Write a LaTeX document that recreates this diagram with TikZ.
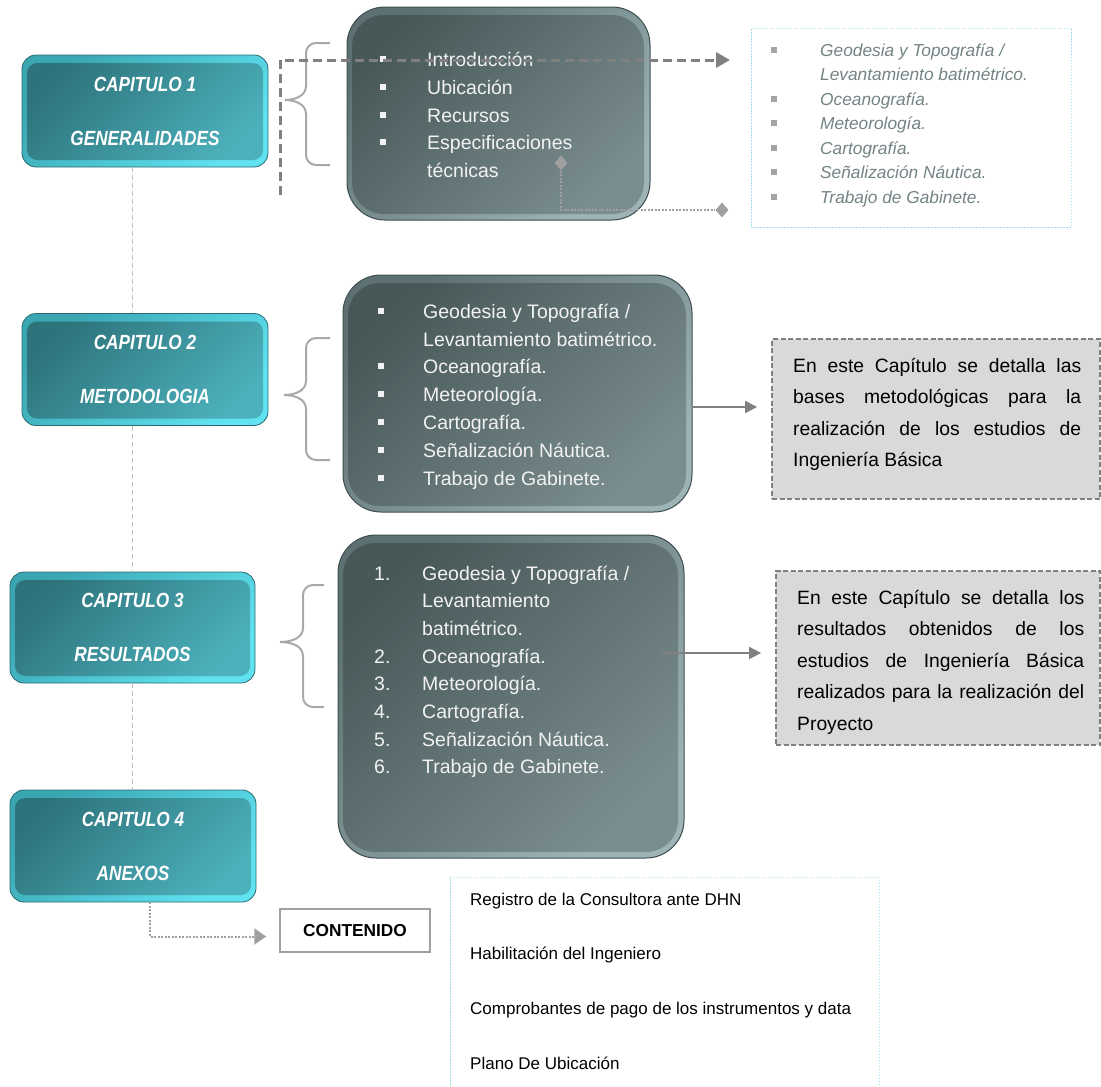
\documentclass[tikz,border=0pt]{standalone}
\usepackage{fontspec}
\setmainfont{Liberation Sans}
\newfontfamily\chapfont[FakeStretch=0.84]{Liberation Sans}
\usetikzlibrary{arrows.meta,shapes.geometric}
\definecolor{tealdark}{HTML}{2D737B}
\definecolor{teallight}{HTML}{4CB1BC}
\definecolor{tealedge}{HTML}{2A6A72}
\definecolor{bevtop}{HTML}{3AA6B2}
\definecolor{bevbot}{HTML}{60E2F0}
\definecolor{slatedark}{HTML}{485859}
\definecolor{slatelight}{HTML}{7A8D8F}
\definecolor{slateedge}{HTML}{3E4D4F}
\definecolor{sbevtop}{HTML}{5D7072}
\definecolor{sbevbot}{HTML}{9DB3B5}
\definecolor{arrgray}{HTML}{808080}
\definecolor{dotgray}{HTML}{A0A0A0}
\definecolor{conngray}{HTML}{C0C0C0}
\definecolor{skyline}{HTML}{A6DEF0}
\definecolor{italgray}{HTML}{738384}
\definecolor{boxgray}{HTML}{D9D9D9}
\definecolor{bracegray}{HTML}{A8A8A8}
\definecolor{bultone}{HTML}{A5A5A5}
\newcommand\wbul[1]{\makebox[#1][l]{\rule[4.5pt]{6pt}{6pt}}}
\newcommand\gbul{\makebox[50pt][l]{\hspace{1pt}\textcolor{bultone}{\rule[3.5pt]{6pt}{6pt}}}}
\begin{document}
\begin{tikzpicture}[x=1pt,y=-1pt,
  chapbox/.style={rounded corners=14pt, minimum width=246pt, minimum height=112pt, draw=tealedge, line width=0.8pt,
    top color=bevtop, bottom color=bevbot, shading angle=45,
    path picture={\shade[rounded corners=10pt, top color=tealdark, bottom color=teallight, shading angle=45]
      ([shift={(5pt,-8pt)}]path picture bounding box.north west) rectangle ([shift={(-5pt,7pt)}]path picture bounding box.south east);},
    text=white, font=\chapfont\fontsize{20.5}{24}\selectfont\bfseries\itshape, align=center, inner sep=0pt},
  slatebox/.style={rounded corners=38pt, draw=slateedge, line width=1pt,
    top color=sbevtop, bottom color=sbevbot, shading angle=45,
    path picture={\shade[rounded corners=32pt, top color=slatedark, bottom color=slatelight, shading angle=45]
      ([shift={(5pt,-8pt)}]path picture bounding box.north west) rectangle ([shift={(-6pt,6pt)}]path picture bounding box.south east);}},
  wlist/.style={anchor=base west, inner sep=0pt, align=left, text=white!95!black},
  skybox/.style={draw=skyline, line width=0.9pt, dash pattern=on 1.5pt off 1.5pt},
  graybox/.style={fill=boxgray, draw=arrgray, line width=1.8pt, dash pattern=on 5pt off 2.5pt},
  graytext/.style={anchor=base west, inner sep=0pt, text width=288pt, align=justify, font=\fontsize{19.3}{31.5}\selectfont},
  chapline/.style={draw=conngray, line width=1pt, dash pattern=on 5pt off 3pt},
  bigdash/.style={draw=arrgray, line width=3pt, dash pattern=on 9pt off 5pt, -{Triangle[length=14pt,width=15pt]}},
  dotline/.style={draw=dotgray, line width=2.5pt, dash pattern=on 2pt off 1.5pt},
  diam/.style={diamond, fill=dotgray, minimum width=13pt, minimum height=15pt, inner sep=0pt},
  solidarrow/.style={draw=arrgray, line width=2pt, -{Triangle[length=12pt,width=12pt]}, shorten >=14pt},
  dotarrow/.style={draw=dotgray, line width=2pt, dash pattern=on 2pt off 1.5pt, -{Triangle[length=12pt,width=16pt]}, shorten >=13pt},
  brace/.style={draw=bracegray, line width=2pt},
  contbox/.style={draw=dotgray, line width=1.5pt, fill=white, minimum width=150pt, minimum height=43pt, font=\fontsize{17.3}{20}\selectfont\bfseries}
]
\useasboundingbox (0,0) rectangle (1101,1087);

% chapter boxes
\node[chapbox] (ch1) at (145,111) {CAPITULO 1\\[30pt]GENERALIDADES};
\node[chapbox] (ch2) at (145,369.5) {CAPITULO 2\\[30pt]METODOLOGIA};
\node[chapbox, minimum width=245pt, minimum height=111pt] (ch3) at (132.5,627.5) {CAPITULO 3\\[30pt]RESULTADOS};
\node[chapbox] (ch4) at (133,846) {CAPITULO 4\\[30pt]ANEXOS};

\draw[chapline] (ch1.south -| ch3.center) -- (ch2.north -| ch3.center);
\draw[chapline] (ch2.south -| ch3.center) -- (ch3.north);
\draw[chapline] (ch3.south) -- (ch4.north -| ch3.center);

% braces
\draw[brace] (330,43) -- (316,43) to[out=180,in=90] (306,53) -- (306,86) to[out=270,in=0] (285,100) to[out=0,in=90] (306,114) -- (306,155) to[out=270,in=180] (316,165) -- (330,165);
\draw[brace] (330,338) -- (316,338) to[out=180,in=90] (306,348) -- (306,381) to[out=270,in=0] (284,395) to[out=0,in=90] (306,409) -- (306,450) to[out=270,in=180] (316,460) -- (330,460);
\draw[brace] (324,585) -- (313,585) to[out=180,in=90] (303,595) -- (303,628) to[out=270,in=0] (280,642) to[out=0,in=90] (303,656) -- (303,697) to[out=270,in=180] (313,707) -- (324,707);

% dark boxes
\node[slatebox, minimum width=303pt, minimum height=213pt] (A) at (498.5,113.5) {};
\node[slatebox, minimum width=349pt, minimum height=237pt] (B) at (517.5,393.5) {};
\node[slatebox, minimum width=346pt, minimum height=323pt] (C) at (511,696.5) {};

\node[wlist, font=\fontsize{19.5}{27.7}\selectfont] (At) at (380,177.5)
  {\wbul{47pt}Introducción\\\wbul{47pt}Ubicación\\\wbul{47pt}Recursos\\\wbul{47pt}Especificaciones\\\hspace*{47pt}técnicas};
\node[wlist, font=\fontsize{19.5}{27.8}\selectfont] (Bt) at (378,485)
  {\wbul{45pt}Geodesia y Topografía /\\\hspace*{45pt}Levantamiento batimétrico.\\\wbul{45pt}Oceanografía.\\\wbul{45pt}Meteorología.\\\wbul{45pt}Cartografía.\\\wbul{45pt}Señalización Náutica.\\\wbul{45pt}Trabajo de Gabinete.};
\node[wlist, font=\fontsize{19.5}{27.7}\selectfont] (Ct) at (374,773.9)
  {\makebox[48pt][l]{1.}Geodesia y Topografía /\\\hspace*{48pt}Levantamiento\\\hspace*{48pt}batimétrico.\\\makebox[48pt][l]{2.}Oceanografía.\\\makebox[48pt][l]{3.}Meteorología.\\\makebox[48pt][l]{4.}Cartografía.\\\makebox[48pt][l]{5.}Señalización Náutica.\\\makebox[48pt][l]{6.}Trabajo de Gabinete.};

% top-right list
\node[skybox, minimum width=320pt, minimum height=199pt] (lst) at (911,127.5) {};
\node[anchor=base west, inner sep=0pt, align=left, text=italgray, font=\fontsize{17.3}{24.5}\selectfont\itshape] (lstt) at (770,203)
  {\gbul Geodesia y Topografía /\\\hspace*{50pt}Levantamiento batimétrico.\\\gbul Oceanografía.\\\gbul Meteorología.\\\gbul Cartografía.\\\gbul Señalización Náutica.\\\gbul Trabajo de Gabinete.};

% top dashed arrow
\coordinate (dA) at (280,195);
\coordinate (dB) at (730,60);
\draw[bigdash] (dA) |- (dB);

% diamond connector
\node[diam] (dia1) at (561,163) {};
\node[diam] (dia2) at (722,210) {};
\draw[dotline] (dia1.south) |- (dia2.west);

% gray boxes
\node[graybox, minimum width=328pt, minimum height=160pt] (g1) at (936,419) {};
\node[graybox, minimum width=324pt, minimum height=174pt] (g2) at (938,658) {};
\node[graytext] (g1t) at (793,372) {En este Capítulo se detalla las\linebreak bases metodológicas para la\linebreak realización de los estudios de\linebreak Ingeniería Básica};
\node[graytext, text width=287pt] (g2t) at (797,604) {En este Capítulo se detalla los\linebreak resultados obtenidos de los\linebreak estudios de Ingeniería Básica\linebreak realizados para la realización del\linebreak Proyecto};

\coordinate (g1y) at (0,407);
\coordinate (g2y) at (0,653);
\draw[solidarrow] (B.east |- g1y) -- (g1.west |- g1y);
\draw[solidarrow] ([xshift=-23pt]C.east |- g2y) -- (g2.west |- g2y);

% annex part
\node[contbox] (cont) at (355,930.5) {CONTENIDO};
\draw[dotarrow] ([xshift=17pt]ch4.south) |- ([yshift=-6pt]cont.west);
\node[skybox, minimum width=429pt, minimum height=223pt] (anx) at (664.5,988.5) {};
\node[anchor=base west, inner sep=0pt, align=left, font=\fontsize{17}{54.7}\selectfont] (anxt) at (470,1069.1)
  {Registro de la Consultora ante DHN\\Habilitación del Ingeniero\\Comprobantes de pago de los instrumentos y data\\Plano De Ubicación};
\end{tikzpicture}
\end{document}
